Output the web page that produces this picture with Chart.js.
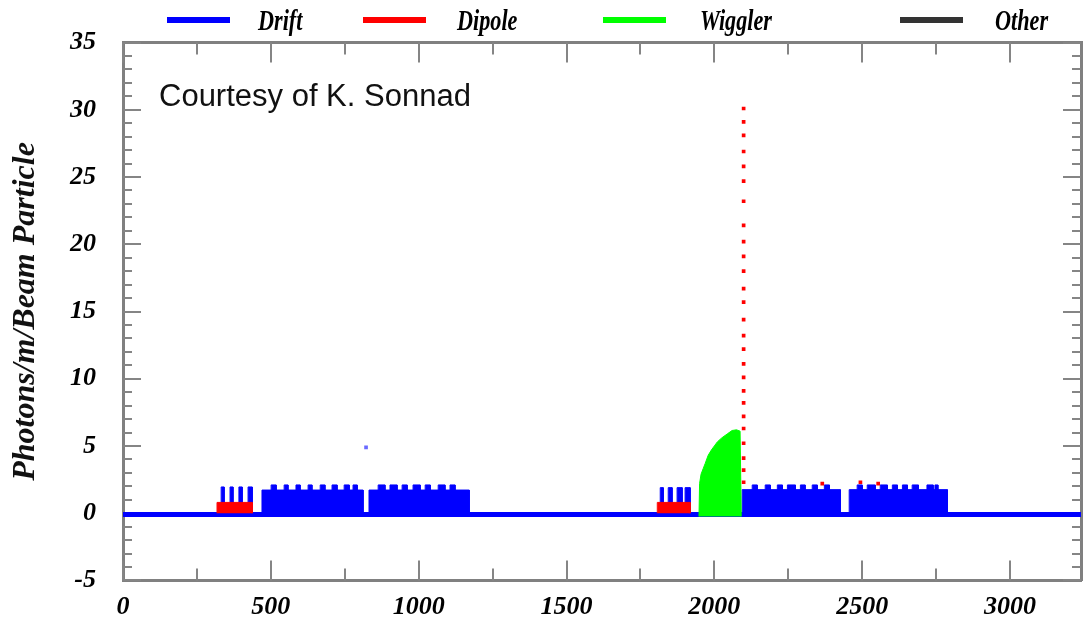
<!DOCTYPE html>
<html>
<head>
<meta charset="utf-8">
<title>Photon rate around the ring</title>
<script src="https://cdn.jsdelivr.net/npm/chart.js@4.4.1/dist/chart.umd.min.js"></script>
<style>
  body { margin: 0; background: #fff; }
  #wrap { position: relative; width: 1089px; height: 623px; }
  #plot { position: absolute; left: 0; top: 0; }
  .key { position: absolute; top: 17px; width: 63px; height: 6px; }
  .key-label {
    position: absolute; top: 5px; color: #000; white-space: nowrap;
    font: italic bold 30px "Liberation Serif", serif; line-height: 30px;
    transform: scaleX(0.74); transform-origin: 0 0;
  }
  #credit {
    position: absolute; left: 159px; top: 81px; color: #111;
    font: 31px "Liberation Sans", Arial, sans-serif; line-height: 30px;
  }
</style>
</head>
<body>
<div id="wrap">
  <canvas id="plot" width="1089" height="623"></canvas>
  <div id="legend"></div>
  <div id="credit">Courtesy of K. Sonnad</div>
</div>
<script>
// series names and colours
const seriesNames = ['Drift', 'Dipole', 'Wiggler', 'Other'];
const seriesColors = ['#0000ff', '#ff0000', '#00ff00', '#000000'];

// axis ticks
const xTicks = [0, 500, 1000, 1500, 2000, 2500, 3000];
const yTicks = [-5, 0, 5, 10, 15, 20, 25, 30, 35];

// drift: rate along the straights, [start s, end s, photons]
const driftBaseline = [[0, -0.1], [3240, -0.1]];
const driftBlocks = [[470, 812, 1.72], [832, 1171, 1.72], [2094, 2426, 1.75], [2456, 2788, 1.75]];
const driftSpikes = [
  [332, 342, 1.95], [362, 372, 1.95], [392, 403, 1.95], [423, 437, 1.95],
  [501, 518, 2.1], [545, 558, 2.1], [585, 599, 2.1], [626, 639, 2.1],
  [667, 683, 2.1], [707, 724, 2.1], [748, 765, 2.1], [778, 792, 2.1],
  [863, 886, 2.1], [903, 927, 2.1], [944, 961, 2.1], [981, 1005, 2.1],
  [1022, 1039, 2.1], [1066, 1089, 2.1], [1106, 1123, 2.1],
  [1817, 1827, 1.9], [1844, 1857, 1.9], [1874, 1891, 1.9], [1901, 1918, 1.9],
  [2128, 2145, 2.1], [2172, 2189, 2.1], [2213, 2230, 2.1], [2247, 2274, 2.1],
  [2291, 2307, 2.1], [2331, 2348, 2.1], [2372, 2389, 2.1],
  [2483, 2500, 2.1], [2517, 2544, 2.1], [2561, 2585, 2.1], [2602, 2619, 2.1],
  [2636, 2653, 2.1], [2669, 2690, 2.1], [2719, 2740, 2.1], [2746, 2756, 2.1]
];
const driftStray = [[822, 4.9]];

// dipole: arc sections and the hard-bend peak
const dipoleBlocks = [[318, 437, 0.8], [1807, 1918, 0.8]];
const dipolePeakX = 2099;
const dipolePeakY = [30.1, 29.1, 28.1, 26.9, 25.8, 24.7, 23.2, 21.4, 20.2, 19.1, 18.0, 16.7, 15.7,
  14.4, 13.2, 12.2, 11.1, 10.1, 9.1, 8.2, 7.2, 6.3, 5.2, 4.1, 3.2, 2.3];
const dipoleSpecks = [[2365, 2.2], [2494, 2.3], [2554, 2.2]];

// wiggler section outline
const wigglerEdge = [[1948, -0.25], [1950, 2.2], [1955, 2.9], [1962, 3.3], [1969, 3.7], [1979, 4.3],
  [1990, 4.7], [2000, 5.0], [2010, 5.3], [2025, 5.6], [2044, 5.9], [2060, 6.15], [2075, 6.2],
  [2087, 6.1], [2091, -0.25]];

// legend layout: line start and text start
const keyPos = [[167, 258], [363, 457], [603, 700], [900, 995]];

const legend = document.getElementById('legend');
seriesNames.forEach((name, i) => {
  const line = document.createElement('div');
  line.className = 'key';
  line.style.left = keyPos[i][0] + 'px';
  line.style.background = i === 3 ? '#333' : seriesColors[i];
  const text = document.createElement('div');
  text.className = 'key-label';
  text.style.left = keyPos[i][1] + 'px';
  text.textContent = name;
  legend.append(line, text);
});

const pts = list => list.map(([x, y]) => ({ x, y }));
// each section becomes its own closed step, broken from the next by a gap
const steps = list => list.flatMap(([s, e, h]) => [
  { x: s, y: 0 }, { x: s, y: h }, { x: e, y: h }, { x: e, y: 0 }, { x: e, y: null }
]);

// inward tick marks on all four sides
const innerTicks = {
  id: 'innerTicks',
  beforeDatasetsDraw(chart) {
    const { ctx, chartArea: a, scales: { x, y } } = chart;
    ctx.save();
    ctx.strokeStyle = '#858585';
    ctx.lineWidth = 2;
    ctx.beginPath();
    for (let v = 0; v <= x.max; v += 250) {
      const px = Math.round(x.getPixelForValue(v));
      const len = v % 500 === 0 ? 20 : 12;
      ctx.moveTo(px, a.bottom); ctx.lineTo(px, a.bottom - len);
      ctx.moveTo(px, a.top); ctx.lineTo(px, a.top + len);
    }
    for (let v = y.min; v <= y.max; v += 1) {
      const py = Math.round(y.getPixelForValue(v));
      const len = v % 5 === 0 ? 18 : 9;
      ctx.moveTo(a.left, py); ctx.lineTo(a.left + len, py);
      ctx.moveTo(a.right, py); ctx.lineTo(a.right - len, py);
    }
    ctx.stroke();
    ctx.restore();
  }
};

const tickFont = { family: '"Liberation Serif", serif', size: 26, style: 'italic', weight: 'bold' };
const frame = { display: true, color: '#808080', width: 3 };
const noGrid = { display: false, drawTicks: false };

const section = (label, data, color, order) => ({
  label, data, fill: 'origin', spanGaps: false,
  backgroundColor: color, borderColor: color, borderWidth: 1, pointRadius: 0, order
});

new Chart(document.getElementById('plot'), {
  type: 'line',
  data: {
    datasets: [
      {
        label: 'Dipole',
        data: dipolePeakY.map(v => ({ x: dipolePeakX, y: v })).concat(pts(dipoleSpecks)),
        showLine: false, pointStyle: 'rect', pointRadius: 2.6,
        pointBackgroundColor: '#ff0000', pointBorderWidth: 0, order: 0
      },
      section('Dipole arcs', steps(dipoleBlocks), '#ff0000', 1),
      {
        label: 'Wiggler', data: pts(wigglerEdge), fill: { value: -0.25 },
        backgroundColor: '#00ff00', borderColor: '#00ff00', borderWidth: 1, pointRadius: 0, order: 2
      },
      {
        label: 'Drift', data: pts(driftBaseline),
        borderColor: '#0000ff', borderWidth: 5, pointRadius: 0, fill: false, order: 3
      },
      {
        label: 'Drift stray', data: pts(driftStray), showLine: false, pointStyle: 'rect',
        pointRadius: 2.6, pointBackgroundColor: '#6a6aff', pointBorderWidth: 0, order: 4
      },
      section('Drift peaks', steps(driftSpikes), '#0000ff', 5),
      section('Drift straights', steps(driftBlocks), '#0000ff', 6)
    ]
  },
  options: {
    responsive: false,
    animation: false,
    devicePixelRatio: 1,
    events: [],
    layout: { padding: 0 },
    plugins: { legend: { display: false }, tooltip: { enabled: false } },
    scales: {
      x: {
        type: 'linear', position: 'bottom', min: 0, max: 3240,
        afterBuildTicks: s => { s.ticks = xTicks.map(v => ({ value: v })); },
        afterFit: s => { s.height = 38; },
        grid: noGrid, border: frame,
        ticks: {
          font: tickFont, color: '#000', padding: 11, maxRotation: 0, autoSkip: false,
          callback: v => String(v)
        }
      },
      x2: {
        type: 'linear', position: 'top', min: 0, max: 3240,
        afterFit: s => { s.height = 40; },
        grid: noGrid, border: frame, ticks: { display: false }
      },
      y: {
        type: 'linear', position: 'left', min: -5, max: 35,
        afterBuildTicks: s => { s.ticks = yTicks.map(v => ({ value: v })); },
        afterFit: s => { s.width = 123; },
        grid: noGrid, border: frame,
        ticks: { font: tickFont, color: '#000', padding: 27, callback: v => String(v) },
        title: {
          display: true, text: 'Photons/m/Beam Particle', color: '#111',
          font: { family: '"Liberation Serif", serif', size: 32, style: 'italic', weight: 'bold' },
          padding: { top: 7, bottom: 0 }
        }
      },
      y2: {
        type: 'linear', position: 'right', min: -5, max: 35,
        afterFit: s => { s.width = 8; },
        grid: noGrid, border: frame, ticks: { display: false }
      }
    }
  },
  plugins: [innerTicks]
});
</script>
</body>
</html>
